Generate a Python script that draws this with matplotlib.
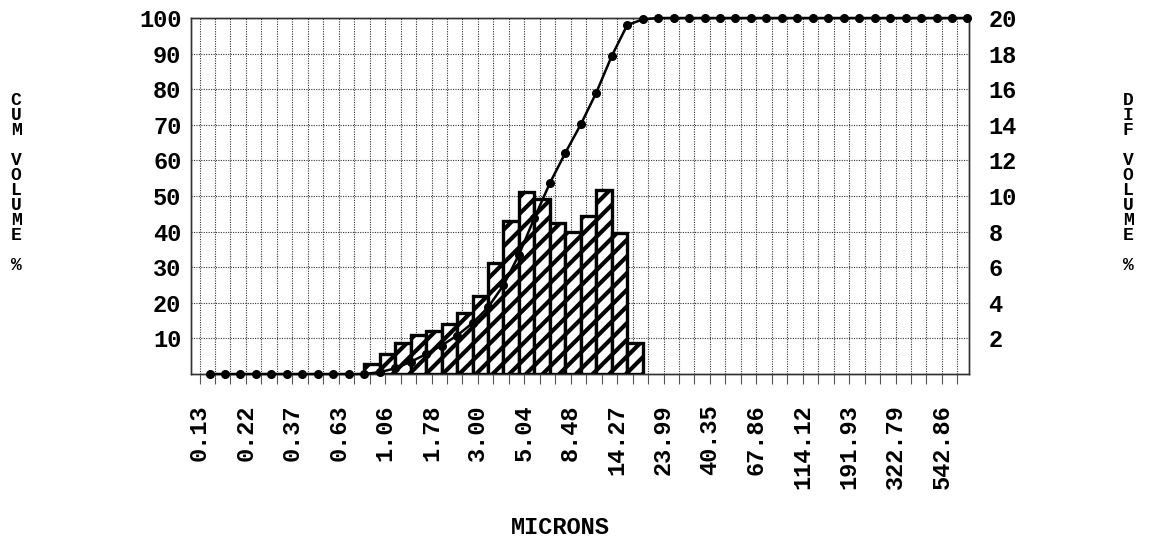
import matplotlib
matplotlib.use('Agg')
import matplotlib.pyplot as plt
import numpy as np

# ---- data ----
size_labels = ['0.13', '0.22', '0.37', '0.63', '1.06', '1.78', '3.00', '5.04',
               '8.48', '14.27', '23.99', '40.35', '67.86', '114.12', '191.93',
               '322.79', '542.86']
cum_volume = ([0] * 11 +
              [0.5, 1.6, 3.4, 5.6, 8.0, 10.8, 14.3, 18.7, 24.9, 33.5, 43.8,
               53.6, 62.1, 70.1, 79.0, 89.3, 98.0, 99.6] +
              [100] * 21)
dif_volume = [0.55, 1.1, 1.75, 2.2, 2.4, 2.8, 3.45, 4.4, 6.25, 8.6, 10.25,
              9.85, 8.5, 8.0, 8.9, 10.35, 7.9, 1.75]
first_bar_edge = 10
cum_ticks = [10, 20, 30, 40, 50, 60, 70, 80, 90, 100]
dif_ticks = [2, 4, 6, 8, 10, 12, 14, 16, 18, 20]

# ---- layout / style ----
FONT = 'Liberation Mono'
plt.rcParams['hatch.linewidth'] = 3.0
plt.rcParams['hatch.color'] = 'black'
W, H = 1150, 541
L, R, T, B = 191, 969, 18, 374

fig = plt.figure(figsize=(W / 100, H / 100), dpi=100)
ax = fig.add_axes([L / W, 1 - B / H, (R - L) / W, (B - T) / H])
ax2 = ax.twinx()
ax2.set_zorder(0)
ax.set_zorder(1)
ax.patch.set_visible(False)
ax2.patch.set_visible(True)
ax2.patch.set_facecolor('white')

n_edges = len(cum_volume)
offset = 0.65
edge_pos = np.arange(n_edges) + offset
label_pos = np.arange(len(size_labels)) * 3

ax.set_xlim(-0.55, 49.75)
ax.set_ylim(0, 100)
ax2.set_ylim(0, 20)

# grid (on the lower axes, so bars cover it)
ax2.xaxis.set_visible(True)
ax.set_xticks(label_pos)
ax.set_xticklabels(size_labels, rotation=90, family=FONT, weight='bold',
                   fontsize=17)
ax.set_xticks(np.arange(0, 50), minor=True)
ax2.tick_params(axis='x', which='both', length=0, labelbottom=False,
                labeltop=False)
grid_kw = dict(color='#333333', linewidth=0.8, linestyle=(0, (1, 1.2)))
ax2.grid(True, axis='x', which='both', **grid_kw)
ax2.grid(True, axis='y', which='major', **grid_kw)

# bars
bar_left = edge_pos[first_bar_edge:first_bar_edge + len(dif_volume)]
bars = ax2.bar(bar_left, dif_volume, width=1.0, align='edge',
               facecolor='white', edgecolor='black', linewidth=2.4, zorder=3)
for b in bars:
    b.set_hatch('//')
    if hasattr(b, 'set_hatch_linewidth'):
        b.set_hatch_linewidth(3.0)

# cumulative line
ax.plot(edge_pos, cum_volume, color='black', linewidth=1.8, marker='o',
        markersize=5.5, clip_on=False, zorder=5)

# ticks
ax.tick_params(axis='x', which='both', direction='out', length=7,
               width=0.8, color='#555555', pad=15)
ax.set_yticks(cum_ticks)
ax.set_yticklabels([str(v) for v in cum_ticks], family=FONT, weight='bold',
                   fontsize=17)
ax.tick_params(axis='y', length=0, pad=7)
ax2.set_yticks(dif_ticks)
ax2.set_yticklabels([str(v) for v in dif_ticks], family=FONT, weight='bold',
                    fontsize=17)
ax2.tick_params(axis='y', length=0, pad=14)

for a in (ax, ax2):
    for s in a.spines.values():
        s.set_linestyle((0, (1, 1)))
        s.set_linewidth(1.0)
        s.set_color('#333333')

# stacked axis titles
stack_kw = dict(ha='center', va='center', family=FONT, weight='bold',
                fontsize=13, linespacing=0.84)
fig.text(16 / W, 1 - 183 / H, 'C\nU\nM\n\nV\nO\nL\nU\nM\nE\n\n%', **stack_kw)
fig.text(1128 / W, 1 - 183 / H, 'D\nI\nF\n\nV\nO\nL\nU\nM\nE\n\n%', **stack_kw)
fig.text(560 / W, 1 - 527 / H, 'MICRONS', ha='center', va='center',
         family=FONT, weight='bold', fontsize=17)

fig.savefig('out.png', dpi=100)
